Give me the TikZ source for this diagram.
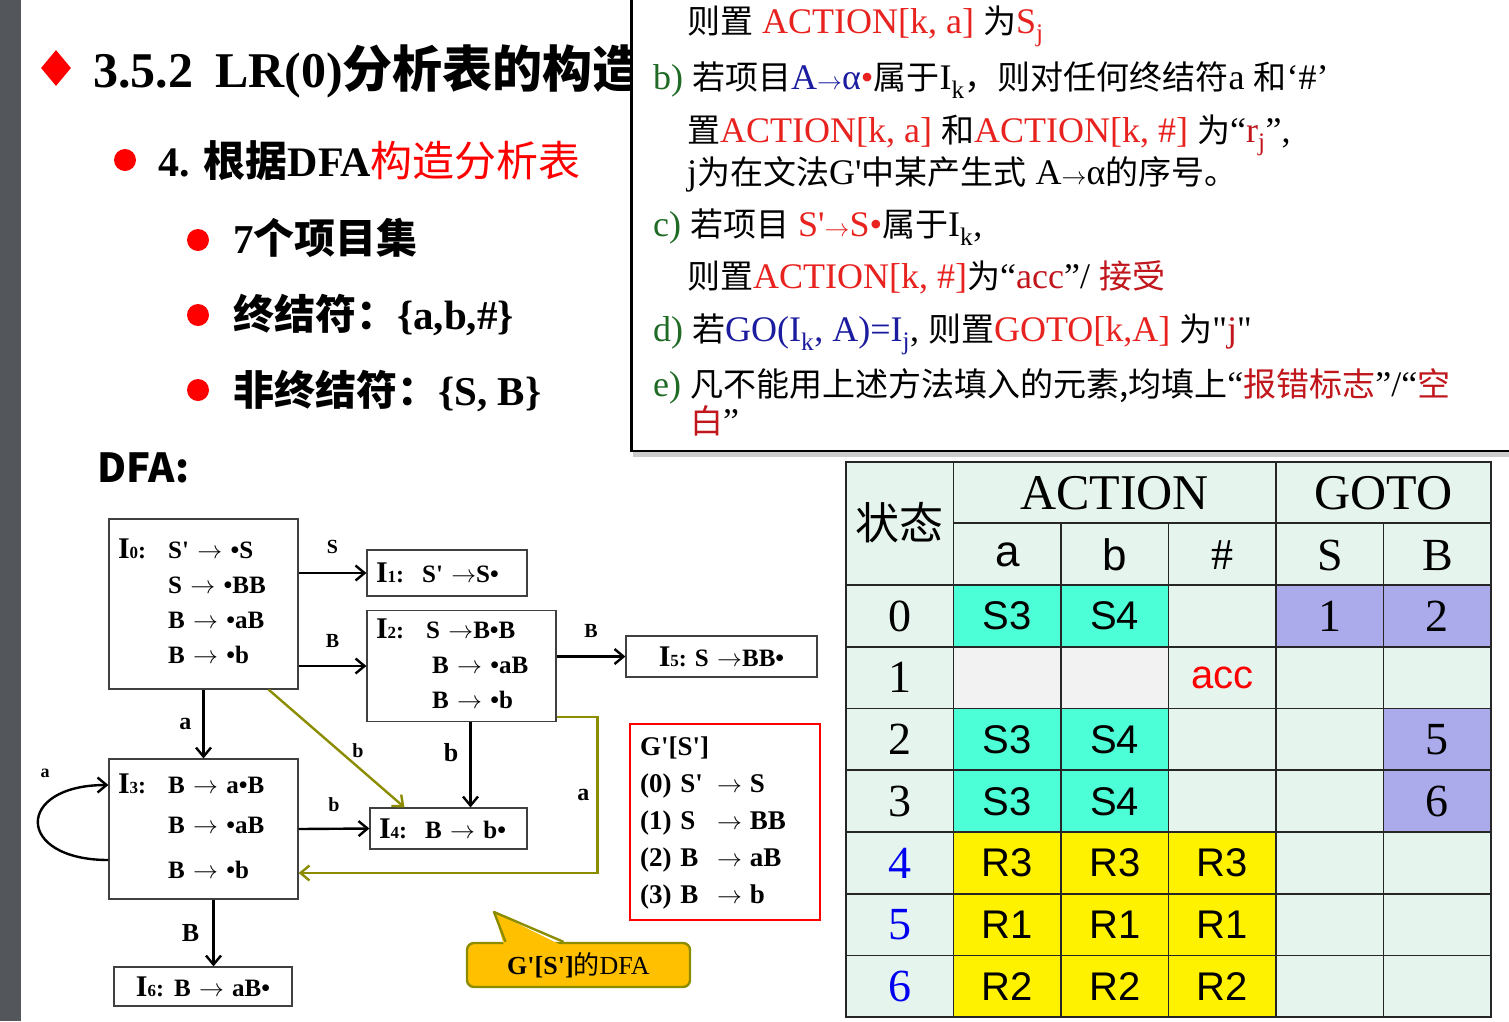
\documentclass[tikz,border=0pt]{standalone}
\usepackage{fontspec}
\setmainfont{Liberation Serif}
\newfontfamily\cjk{Noto Sans CJK SC}
\newfontfamily\arial{Liberation Sans}
\usepackage{xcolor}
\usepackage{tikz}
\usetikzlibrary{arrows.meta,positioning,calc,shapes.geometric,shadows}
\definecolor{SlideBar}{HTML}{53575B}
\definecolor{ActRed}{HTML}{E8221F}
\definecolor{DeepRed}{HTML}{C0161C}
\definecolor{ItemGreen}{HTML}{1F6B25}
\definecolor{GoBlue}{HTML}{1C1CA0}
\definecolor{PathOlive}{HTML}{8C8C00}
\definecolor{NoteGold}{HTML}{FFC000}
\definecolor{TabMint}{HTML}{E6F4EE}
\definecolor{ShiftCyan}{HTML}{4CFFD6}
\definecolor{GotoLilac}{HTML}{ABABEB}
\definecolor{EmptyGrey}{HTML}{F2F2F2}
\definecolor{RowBlue}{HTML}{0000F0}
\newcommand\fsz[1]{\fontsize{#1}{#1}\selectfont}
\newcommand\zh[1]{{\cjk\fontsize{33}{40}\selectfont#1}}
\newcommand\setlbl[1]{{\fsz{30}I}{\fsz{17}#1}{\fsz{24}:}}
\newcommand\goesto{\ensuremath{\rightarrow}}
\newcommand\sq{\textquotesingle}

\begin{document}
\begin{tikzpicture}[x=1pt,y=-1pt,
  itemset/.style={draw=black!75,line width=1.2pt,fill=white,inner xsep=9pt,inner ysep=3pt,
                  align=left,font=\fontsize{25}{35}\selectfont\bfseries},
  trans/.style={line width=2.4pt,-{Straight Barb[length=9pt,width=15pt]}},
  oliveway/.style={trans,draw=PathOlive},
  elbl/.style={font=\fsz{20}\bfseries,inner sep=1pt},
  bullet/.style={circle,fill=red,minimum size=22pt,inner sep=0pt},
  headline/.style={anchor=base west,inner sep=0pt,font=\bfseries},
  cell/.style={font=\arial\fsz{40}},
  num/.style={font=\fsz{46}},
  grid/.style={draw=black!85,line width=1.8pt}]
\useasboundingbox (0,0) rectangle (1509,1021);
\fill[SlideBar] (0,0) rectangle (21,1021);

% slide text
\node[diamond,fill=red,minimum width=30pt,minimum height=36pt,inner sep=0pt] (mark) at (56,68) {};
\node[headline,font=\fsz{50}\bfseries] (title) at (93,87) {3.5.2\hspace{22pt}LR(0){\cjk 分析表的构造}};
\node[bullet] (b4) at (125,160) {};
\node[headline,font=\fsz{42}\bfseries] (step4) at (158,176)
  {4. {\cjk 根据}DFA{\cjk\mdseries\color{red}构造分析表}};
\node[bullet] (b7) at (198,240) {};
\node[headline,font=\fsz{41}\bfseries] (sets) at (233,253) {7{\cjk 个项目集}};
\node[bullet] (bt) at (198,315) {};
\node[headline,font=\fsz{41}\bfseries] (terms) at (233,329) {{\cjk 终结符：}\{a,b,\#\}};
\node[bullet] (bn) at (198,390) {};
\node[headline,font=\fsz{41}\bfseries] (nonterms) at (233,405) {{\cjk 非终结符：}\{S, B\}};
\node[headline,font=\cjk\bfseries\fsz{40}] (dfahead) at (97,482) {DFA:};

% rules box
\node[draw,line width=2.5pt,fill=white,drop shadow={shadow xshift=2pt,shadow yshift=-6pt,fill=black!40},
      minimum width=900pt,minimum height=475pt,anchor=south west] (rules) at (630,452) {};
\node[anchor=north west,inner sep=0pt,align=left,font=\fontsize{36}{40}\selectfont] (steps) at (653,6) {%
\hspace*{34pt}\zh{则置} {\color{ActRed}ACTION[k, a]} \zh{为}{\color{ActRed}S\textsubscript{j}}\\[13pt]
{\color{ItemGreen}b)} \zh{若项目}{\color{GoBlue}A\goesto α}{\color{ActRed}•}\zh{属于}I\textsubscript{k}\zh{，则对任何终结符}a \zh{和}‘\#’\\[13pt]
\hspace*{34pt}\zh{置}{\color{ActRed}ACTION[k, a]} \zh{和}{\color{ActRed}ACTION[k, \#]} \zh{为}“{\color{DeepRed}r\textsubscript{j}}”,\\
\hspace*{34pt}j\zh{为在文法}G\sq\zh{中某产生式} A\goesto α\zh{的序号。}\\[12pt]
{\color{ItemGreen}c)} \zh{若项目} {\color{ActRed}S\sq\goesto S•}\zh{属于}I\textsubscript{k},\\[12pt]
\hspace*{34pt}\zh{则置}{\color{ActRed}ACTION[k, \#]}\zh{为}“{\color{DeepRed}acc}”/ {\color{DeepRed}\zh{接受}}\\[13pt]
{\color{ItemGreen}d)} \zh{若}{\color{GoBlue}GO(I\textsubscript{k}, A)=I\textsubscript{j}}, \zh{则置}{\color{ActRed}GOTO[k,A]} \zh{为}\textquotedbl{\color{DeepRed}j}\textquotedbl\\[13pt]
{\color{ItemGreen}e)} \zh{凡不能用上述方法填入的元素,均填上}“{\color{DeepRed}\zh{报错标志}}”/“{\color{DeepRed}\zh{空}}\\[-3pt]
\hspace*{37pt}{\color{DeepRed}\zh{白}}”};

% DFA item sets
\node[itemset,text width=171pt,minimum height=170pt] (I0) at (203.5,604)
  {\begin{tabular}{@{}l@{\hspace{22pt}}l@{}}\setlbl{0} & S\sq\ \goesto\ •S\\ & S \goesto\ •BB\\ & B \goesto\ •aB\\ & B \goesto\ •b\end{tabular}};
\node[itemset,text width=142pt,minimum height=46pt] (I1) at (447,573) {\setlbl{1}\hspace{18pt}S\sq\ \goesto S•};
\node[itemset,text width=171pt,minimum height=108pt] (I2) at (461.5,666)
  {\begin{tabular}{@{}l@{\hspace{22pt}}l@{}}\setlbl{2} & S \goesto B•B\\ & \hspace{6pt}B \goesto\ •aB\\ & \hspace{6pt}B \goesto\ •b\end{tabular}};
\node[itemset,text width=173pt,minimum height=41pt,align=center] (I5) at (721.5,656.5) {\setlbl{5}\hspace{8pt}S \goesto BB•};
\node[itemset,text width=171pt,minimum height=140pt] (I3) at (203.5,829)
  {\begin{tabular}{@{}l@{\hspace{22pt}}l@{}}\setlbl{3} & B \goesto\ a•B\\[5pt] & B \goesto\ •aB\\[10pt] & B \goesto\ •b\end{tabular}};
\node[itemset,text width=139pt,minimum height=41pt] (I4) at (448.5,828.5) {\setlbl{4}\hspace{18pt}B \goesto\ b•};
\node[itemset,text width=160pt,minimum height=39pt,align=center] (I6) at (203,986.5) {\setlbl{6}\hspace{10pt}B \goesto\ aB•};

% grammar
\node[draw=red,line width=2pt,fill=white,inner xsep=10pt,text width=170pt,minimum height=196pt,
      align=left,font=\fontsize{27}{37}\selectfont\bfseries] (gram) at (725,822)
  {\begin{tabular}{@{}l@{\hspace{14pt}}l@{\hspace{8pt}}l@{}}\multicolumn{3}{@{}l}{G\sq[S\sq]}\\
   (0) S\sq & \goesto & S\\ (1) S & \goesto & BB\\ (2) B & \goesto & aB\\ (3) B & \goesto & b\end{tabular}};

% note
\node[fill=NoteGold,draw=PathOlive,line width=2.4pt,rounded corners=7pt,minimum width=223pt,
      minimum height=44pt,font=\fsz{26}] (note) at (578.5,965) {\textbf{G\sq[S\sq]}{\cjk 的}DFA};
\fill[NoteGold] ([xshift=-74pt,yshift=-5pt]note.north) -- (494,912) -- ([xshift=-14pt,yshift=-5pt]note.north) -- cycle;
\draw[PathOlive,line width=2.4pt,line join=round] ([xshift=-73pt]note.north) -- (494,912) -- ([xshift=-15pt]note.north);

% transitions
\draw[trans] (I0.east |- I1.west) -- node[elbl,above=17pt]{S} (I1.west);
\draw[trans] (I0.east |- I2.west) -- node[elbl,above=16pt]{B} (I2.west);
\draw[trans] (I2.east |- I5.west) -- node[elbl,above=17pt]{B} (I5.west);
\draw[trans] (I0.south) -- node[elbl,left=10pt,font=\fsz{24}\bfseries]{a} (I3.north);
\draw[trans] ([xshift=9pt]I2.south) -- node[elbl,pos=0.36,left=10pt,font=\fsz{26}\bfseries]{b} ([xshift=9pt]I2.south |- I4.north);
\draw[trans] (I3.east) -- node[elbl,above=15pt]{b} (I4.west);
\draw[trans] ([xshift=10pt]I3.south) -- node[elbl,left=12pt,font=\fsz{26}\bfseries]{B} ([xshift=10pt]I3.south |- I6.north);
\draw[trans] ([yshift=-31pt]I3.west) to[out=180,in=180,looseness=3.2] ([yshift=44pt]I3.west);
\node[elbl,font=\fsz{18}\bfseries] (loopa) at (45,773) {a};
\draw[oliveway] ([xshift=-30pt]I0.south east) -- node[elbl,pos=0.6,above right=0pt]{b} ([xshift=-44pt]I4.north);
\draw[oliveway] ([yshift=5pt]I2.south east) -- ++(41,0)
  |- node[elbl,pos=0.25,left=6pt,font=\fsz{24}\bfseries]{a} ([yshift=-44pt]I3.east);

% parsing table
\fill[TabMint] (846,462) rectangle (1491,1017);
\foreach \rw/\cl/\clr in {0/1/ShiftCyan,0/2/ShiftCyan,2/1/ShiftCyan,2/2/ShiftCyan,3/1/ShiftCyan,3/2/ShiftCyan,
    0/4/GotoLilac,0/5/GotoLilac,2/5/GotoLilac,3/5/GotoLilac,1/1/EmptyGrey,1/2/EmptyGrey,
    4/1/yellow,4/2/yellow,4/3/yellow,5/1/yellow,5/2/yellow,5/3/yellow,6/1/yellow,6/2/yellow,6/3/yellow}
  \fill[\clr] ({846+107.5*\cl},{585+61.75*\rw}) rectangle ++(107.5,61.75);
\draw[grid] (846,462) rectangle (1491,1017);
\foreach \cl in {1,4} \draw[grid] ({846+107.5*\cl},462) -- ++(0,555);
\foreach \cl in {2,3,5} \draw[grid] ({846+107.5*\cl},523) -- ++(0,494);
\draw[grid] (953,523) -- (1491,523);
\foreach \rw in {0,...,6} \draw[grid] (846,{585+61.75*\rw}) -- ++(645,0);

\node[font=\cjk\fsz{44}] (hstate) at (899.5,523) {状态};
\node[font=\fsz{50}] (hact) at (1114.5,493) {ACTION};
\node[font=\fsz{50}] (hgo) at (1383.5,493) {GOTO};
\node[font=\arial\fsz{44}] (ha) at (1007.5,555) {a};
\node[font=\arial\fsz{44}] (hb) at (1115,555) {b};
\node[font=\fsz{44}] (hsharp) at (1222.5,555) {\#};
\node[font=\fsz{46}] (hS) at (1330,555) {S};
\node[font=\fsz{46}] (hB) at (1437.5,555) {B};
\foreach \rw in {0,...,3} \node[num] (row\rw) at (899.5,{585+61.75*\rw+31}) {\rw};
\foreach \rw in {4,5,6} \node[num,text=RowBlue] (row\rw) at (899.5,{585+61.75*\rw+31}) {\rw};
\foreach \rw/\cl/\txt in {0/1/S3,0/2/S4,2/1/S3,2/2/S4,3/1/S3,3/2/S4,4/1/R3,4/2/R3,4/3/R3,
    5/1/R1,5/2/R1,5/3/R1,6/1/R2,6/2/R2,6/3/R2}
  \node[cell] (c\rw\cl) at ({846+107.5*\cl+53.75},{585+61.75*\rw+31}) {\txt};
\node[cell,text=red] (c13) at ({846+107.5*3+53.75},{585+61.75+31}) {acc};
\foreach \rw/\cl/\txt in {0/4/1,0/5/2,2/5/5,3/5/6}
  \node[num] (c\rw\cl) at ({846+107.5*\cl+53.75},{585+61.75*\rw+31}) {\txt};
\end{tikzpicture}
\end{document}
